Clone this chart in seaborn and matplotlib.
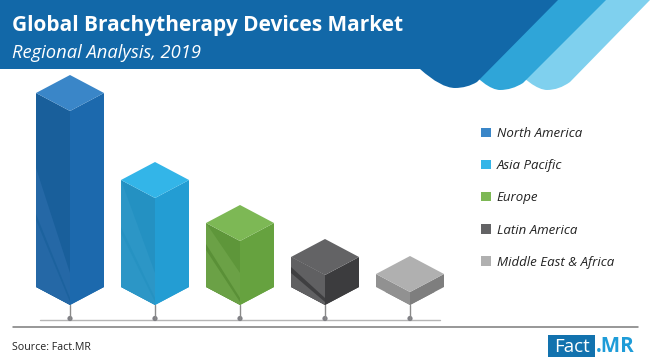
import matplotlib
matplotlib.use('Agg')
import matplotlib.pyplot as plt
import pandas as pd
import seaborn as sns
from matplotlib.patches import Patch, PathPatch, Polygon, Rectangle, Circle
from matplotlib.path import Path

regions = ['North America', 'Asia Pacific', 'Europe', 'Latin America', 'Middle East & Africa']
# no scale in the picture, so heights are the front edge length in pixels
values = [194, 107, 64, 30, 13]

top_colors = ['#3A86C8', '#33B5E8', '#7DB855', '#636365', '#B0B0B0']
right_colors = ['#1C69AD', '#239DD3', '#66A23F', '#3C3C3E', '#7E7E7E']
left_colors = ['#195F9B', '#2491C2', '#5E963A', '#565658', '#919191']
light_colors = ['#2568A6', '#2C96C6', '#6BA146', '#606062', '#919191']
stripe_colors = ['#1C629E', '#2692C2', '#5A9037', '#3F3F41', '#919191']
light_start = [137, 125, 82, 60, 0]
stripe_start = [88, 75, 58, 35, 0]

DEPTH = 18
W, H = 650, 362
BASE_Y = 305
FIRST_X = 70
STEP_X = 85


def ribbon(ax, top_x, mid_x, mid_y, low_x, low_y, end_x, end_y, color, z):
    # band coming down from the top edge, with a rounded foot
    verts = [(top_x, 0), (mid_x, mid_y), (low_x + 12, low_y), (low_x, low_y),
             (low_x - 14, low_y), (end_x, end_y), (end_x, 0), (top_x, 0)]
    codes = [Path.MOVETO, Path.LINETO, Path.CURVE3, Path.CURVE3,
             Path.CURVE3, Path.CURVE3, Path.LINETO, Path.CLOSEPOLY]
    ax.add_patch(PathPatch(Path(verts, codes), fc=color, ec='none', zorder=z))


sns.set_theme(style='white')
plt.rcParams['font.family'] = ['Open Sans', 'DejaVu Sans']

fig = plt.figure(figsize=(W / 100, H / 100), dpi=100)

# header and rules in pixel coordinates
bg = fig.add_axes([0, 0, 1, 1])
bg.set_xlim(0, W)
bg.set_ylim(H, 0)
bg.axis('off')

ribbon(bg, 650, 570, 82, 547, 90, 505, 60, '#7FD0EE', 1)
ribbon(bg, 606, 523, 83, 500, 90, 460, 60, '#2FA5D8', 2)
ribbon(bg, 558, 477, 82, 455, 88, 420, 69, '#1268A8', 3)
bg.add_patch(Rectangle((0, 0), 425, 69, fc='#1268A8', ec='none', zorder=3))

bg.text(12, 31, 'Global Brachytherapy Devices Market', color='white', fontsize=15.0,
        fontweight='bold', va='baseline', zorder=5)
bg.text(12, 58, 'Regional Analysis, 2019', color='white', fontsize=13.2,
        fontstyle='italic', va='baseline', zorder=5)

bg.plot([40, 440], [320, 320], color='#B5B5B5', lw=1.0, zorder=1)
bg.plot([13, 638], [327, 327], color='#7A7A7A', lw=1.1, zorder=1)
bg.text(12, 350, 'Source: Fact.MR', color='#222222', fontsize=7.7, va='baseline')

bg.add_patch(Rectangle((548, 335), 47, 22, fc='#1272AE', ec='none'))
bg.text(571.5, 352.5, 'Fact', color='white', fontsize=13.5, ha='center', va='baseline')
bg.text(596, 352.5, '.MR', color='#1E9CD8', fontsize=14.8, fontweight='bold', va='baseline')

# bars, one data unit is one pixel on the y axis
ax = fig.add_axes([0, 0, 1, 1], facecolor='none')
df = pd.DataFrame({'region': regions, 'value': values})
sns.barplot(data=df, x='region', y='value', hue='region', palette=right_colors, saturation=1,
            dodge=False, legend=False, width=0.8, linewidth=0, ax=ax)
ax.set_xlim(-FIRST_X / STEP_X, (W - FIRST_X) / STEP_X)
ax.set_ylim(BASE_Y - H, BASE_Y)
ax.axis('off')

for i, p in enumerate(ax.patches[:len(regions)]):
    x0 = p.get_x()
    x1 = x0 + p.get_width()
    c = (x0 + x1) / 2
    v = p.get_height()
    outline = Polygon([(c, 0), (x1, DEPTH), (x1, v + DEPTH), (c, v), (x0, v + DEPTH), (x0, DEPTH)],
                      transform=ax.transData)
    p.set_clip_path(outline)

    left = Polygon([(c, 0), (c, v), (x0, v + DEPTH), (x0, DEPTH)], fc=left_colors[i], ec='none', zorder=3)
    ax.add_patch(left)

    # lighter facets on the left face
    if light_start[i]:
        light = Polygon([(c, 0), (c, 32), (x0, light_start[i]), (x0, DEPTH)],
                        fc=light_colors[i], ec='none', zorder=3.1)
        ax.add_patch(light)
        light.set_clip_path(left)
    if stripe_start[i]:
        stripe = Polygon([(c, 3), (c, 7), (x0, stripe_start[i] + 3), (x0, stripe_start[i] - 3)],
                         fc=stripe_colors[i], ec='none', zorder=3.2)
        ax.add_patch(stripe)
        stripe.set_clip_path(left)

    ax.add_patch(Polygon([(c, 0), (c, v), (x1, v + DEPTH), (x1, DEPTH)], fc=right_colors[i], ec='none', zorder=3))
    ax.add_patch(Polygon([(c, v), (x0, v + DEPTH), (c, v + 2 * DEPTH), (x1, v + DEPTH)],
                         fc=top_colors[i], ec='none', zorder=3))

    # stem and dot under the bar
    ax.plot([c, c], [0, -13.5], color='#8A8A8A', lw=1.0, zorder=2)
    bg.add_patch(Circle((FIRST_X + i * STEP_X, 318.5), 2.6, fc='#7F7F85', ec='none', zorder=2))

handles = [Patch(fc=col, ec='none', label=name) for col, name in zip(top_colors, regions)]
leg = fig.legend(handles=handles, loc='upper left', bbox_to_anchor=(468 / W, 1 - 114 / H),
                 frameon=False, prop={'size': 9.5, 'style': 'italic', 'family': 'Open Sans'},
                 labelspacing=1.45, handlelength=0.72, handleheight=0.7, handletextpad=0.45,
                 borderpad=0.5)
for txt in leg.get_texts():
    txt.set_color('#222222')

fig.savefig('out.png', dpi=100)
